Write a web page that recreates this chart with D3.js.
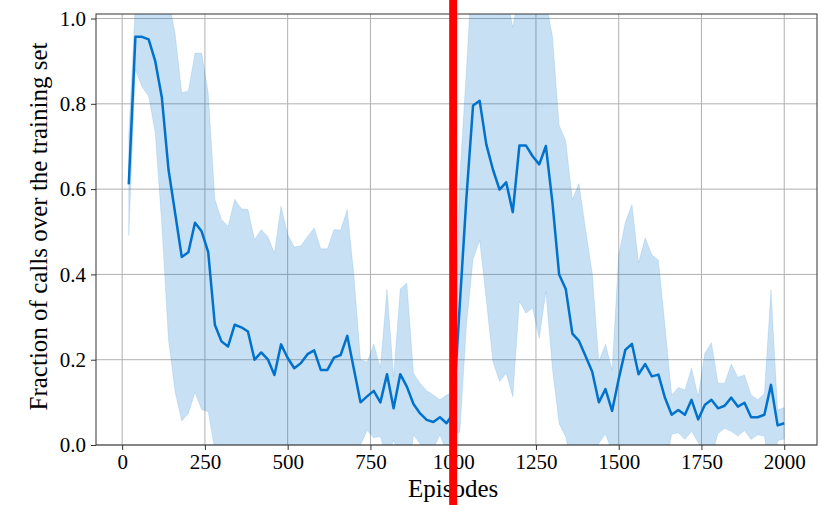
<!DOCTYPE html>
<html>
<head>
<meta charset="utf-8">
<script src="https://cdn.jsdelivr.net/npm/d3@7"></script>
<style>
  html, body { margin: 0; padding: 0; background: #fff; }
  svg { display: block; }
</style>
</head>
<body>
<svg id="chart" width="821" height="505"></svg>
<script>
// Episodes at which the fraction of calls was measured
const episodes = d3.range(20, 2001, 20);

// Mean fraction of calls over the training set
const meanCalls = [
  0.611, 0.957, 0.957, 0.951, 0.900, 0.814, 0.646, 0.544, 0.441, 0.452,
  0.521, 0.501, 0.452, 0.282, 0.243, 0.231, 0.282, 0.276, 0.266, 0.200,
  0.217, 0.201, 0.164, 0.236, 0.204, 0.180, 0.192, 0.213, 0.222, 0.176,
  0.176, 0.205, 0.211, 0.256, 0.178, 0.100, 0.114, 0.127, 0.100, 0.166,
  0.086, 0.166, 0.137, 0.096, 0.074, 0.059, 0.054, 0.065, 0.051, 0.074,
  0.330, 0.580, 0.796, 0.807, 0.705, 0.646, 0.599, 0.616, 0.546, 0.702,
  0.702, 0.677, 0.658, 0.701, 0.567, 0.400, 0.366, 0.261, 0.244, 0.208,
  0.172, 0.100, 0.131, 0.080, 0.155, 0.223, 0.237, 0.166, 0.190, 0.161,
  0.165, 0.110, 0.071, 0.082, 0.071, 0.106, 0.060, 0.094, 0.106, 0.086,
  0.092, 0.111, 0.090, 0.099, 0.065, 0.065, 0.071, 0.141, 0.046, 0.051
];

// Standard deviation across runs (shaded band = mean ± sd)
const sdCalls = [
  0.120, 0.077, 0.117, 0.133, 0.168, 0.300, 0.400, 0.420, 0.385, 0.378,
  0.398, 0.418, 0.374, 0.294, 0.286, 0.282, 0.294, 0.278, 0.286, 0.282,
  0.288, 0.288, 0.286, 0.324, 0.290, 0.284, 0.275, 0.276, 0.287, 0.284,
  0.284, 0.300, 0.293, 0.296, 0.220, 0.100, 0.080, 0.110, 0.080, 0.200,
  0.074, 0.200, 0.243, 0.072, 0.071, 0.068, 0.063, 0.041, 0.066, 0.050,
  0.300, 0.300, 0.360, 0.327, 0.365, 0.450, 0.450, 0.448, 0.433, 0.365,
  0.393, 0.356, 0.408, 0.341, 0.390, 0.350, 0.347, 0.315, 0.369, 0.297,
  0.231, 0.096, 0.105, 0.096, 0.290, 0.300, 0.327, 0.261, 0.296, 0.285,
  0.268, 0.168, 0.046, 0.053, 0.058, 0.074, 0.054, 0.121, 0.134, 0.059,
  0.053, 0.079, 0.069, 0.065, 0.052, 0.041, 0.050, 0.223, 0.036, 0.037
];

const xTicks = [0, 250, 500, 750, 1000, 1250, 1500, 1750, 2000];
const yTicks = [0.0, 0.2, 0.4, 0.6, 0.8, 1.0];
const markerEpisode = 1000;

const rows = episodes.map((e, i) => ({
  ep: e, mean: meanCalls[i],
  lo: meanCalls[i] - sdCalls[i], hi: meanCalls[i] + sdCalls[i]
}));

const svg = d3.select("#chart");
const plotLeft = 96, plotRight = 817, plotTop = 14, plotBottom = 445;
const x = d3.scaleLinear().domain([-79, 2099]).range([plotLeft, plotRight]);
const y = d3.scaleLinear().domain([0, 1.0106]).range([plotBottom, plotTop]);
const font = "'Liberation Serif', 'Times New Roman', serif";

svg.append("defs").append("clipPath").attr("id", "plotClip")
  .append("rect").attr("x", plotLeft).attr("y", plotTop)
  .attr("width", plotRight - plotLeft).attr("height", plotBottom - plotTop);

// grid
const grid = svg.append("g");
grid.selectAll("line.vx").data(xTicks).join("line")
  .attr("x1", d => x(d)).attr("x2", d => x(d))
  .attr("y1", plotTop).attr("y2", plotBottom)
  .attr("stroke", "#b0b0b0").attr("stroke-width", 1);
grid.selectAll("line.hy").data(yTicks).join("line")
  .attr("x1", plotLeft).attr("x2", plotRight)
  .attr("y1", d => y(d)).attr("y2", d => y(d))
  .attr("stroke", "#b0b0b0").attr("stroke-width", 1);

const plot = svg.append("g").attr("clip-path", "url(#plotClip)");

// spread band
plot.append("path").datum(rows)
  .attr("d", d3.area().x(d => x(d.ep)).y0(d => y(d.lo)).y1(d => y(d.hi)))
  .attr("fill", "#0072cc").attr("fill-opacity", 0.22)
  .attr("stroke", "#0072cc").attr("stroke-opacity", 0.12).attr("stroke-width", 1);

// mean line
plot.append("path").datum(rows)
  .attr("d", d3.line().x(d => x(d.ep)).y(d => y(d.mean)))
  .attr("fill", "none").attr("stroke", "#0072cc")
  .attr("stroke-width", 2.5).attr("stroke-linejoin", "round");

// frame
svg.append("rect").attr("x", plotLeft).attr("y", plotTop)
  .attr("width", plotRight - plotLeft).attr("height", plotBottom - plotTop)
  .attr("fill", "none").attr("stroke", "#333").attr("stroke-width", 1);

// axes
const xAxis = svg.append("g").attr("transform", `translate(0,${plotBottom})`)
  .call(d3.axisBottom(x).tickValues(xTicks).tickFormat(d3.format("d")).tickSize(5).tickPadding(4));
const yAxis = svg.append("g").attr("transform", `translate(${plotLeft},0)`)
  .call(d3.axisLeft(y).tickValues(yTicks).tickFormat(d3.format(".1f")).tickSize(5).tickPadding(5));
[xAxis, yAxis].forEach(a => {
  a.select(".domain").remove();
  a.attr("font-family", font);
  a.selectAll(".tick line").attr("stroke", "#333");
  a.selectAll(".tick text").attr("fill", "#000")
    .style("font-family", font).style("font-size", "21px");
});

// axis titles
svg.append("text").attr("x", x(1000)).attr("y", 497)
  .attr("text-anchor", "middle").style("font-family", font).style("font-size", "25px")
  .text("Episodes");
svg.append("text")
  .attr("transform", `translate(47,${(plotTop + plotBottom) / 2 - 3}) rotate(-90)`)
  .attr("text-anchor", "middle").style("font-family", font).style("font-size", "25px")
  .text("Fraction of calls over the training set");

// marker at episode 1000
svg.append("rect").attr("x", x(markerEpisode) - 4).attr("y", 0)
  .attr("width", 8).attr("height", 505).attr("fill", "#ff0000");
</script>
</body>
</html>
